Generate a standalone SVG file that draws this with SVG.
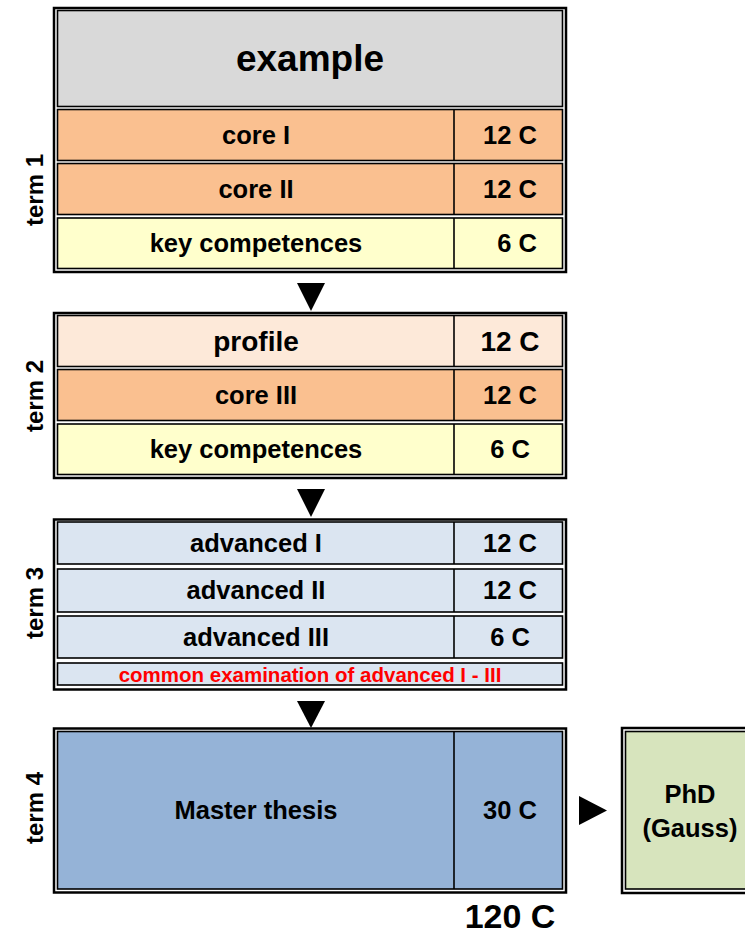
<svg xmlns="http://www.w3.org/2000/svg" width="745" height="936" viewBox="0 0 745 936">
<style>
.frame{fill:#ffffff;stroke:#000;stroke-width:2.5}
.cell{stroke:#000;stroke-width:1.6}
.div{stroke:#000;stroke-width:1.6}
text{font-family:"Liberation Sans",Arial,sans-serif;font-weight:bold;fill:#000;text-anchor:middle}
.t{font-size:25.5px}
.big{font-size:28px}
.term{font-size:24px}
.red{font-size:20.5px;fill:#ff0000}
.grey{fill:#d9d9d9}.core{fill:#fac090}.key{fill:#ffffcc}.prof{fill:#fde9d9}.adv{fill:#dbe5f1}.mt{fill:#95b3d7}.phd{fill:#d7e4bd}
.arr{fill:#000}
</style>
<rect width="745" height="936" fill="#ffffff"/>

<g id="term1">
<rect class="frame" x="54" y="8" width="512" height="264"/>
<rect class="cell grey" x="57.5" y="10.5" width="505" height="96"/>
<text x="310" y="71" style="font-size:37px">example</text>
<rect class="cell core" x="57.5" y="109.5" width="505" height="51"/>
<line class="div" x1="454" y1="109.5" x2="454" y2="160.5"/>
<text class="t" x="256" y="144">core I</text>
<text class="t" x="510" y="144">12 C</text>
<rect class="cell core" x="57.5" y="163.5" width="505" height="51"/>
<line class="div" x1="454" y1="163.5" x2="454" y2="214.5"/>
<text class="t" x="256" y="198">core II</text>
<text class="t" x="510" y="198">12 C</text>
<rect class="cell key" x="57.5" y="218" width="505" height="50.5"/>
<line class="div" x1="454" y1="218" x2="454" y2="268.5"/>
<text class="t" x="256" y="252">key competences</text>
<text class="t" x="517" y="252">6 C</text>
<text class="term" transform="translate(43,190) rotate(-90)">term 1</text>
</g>

<g id="term2">
<rect class="frame" x="54" y="313" width="512" height="165"/>
<rect class="cell prof" x="57.5" y="315.5" width="505" height="51"/>
<line class="div" x1="454" y1="315.5" x2="454" y2="366.5"/>
<text class="big" x="256" y="351">profile</text>
<text class="big" x="510" y="351">12 C</text>
<rect class="cell core" x="57.5" y="369.5" width="505" height="51"/>
<line class="div" x1="454" y1="369.5" x2="454" y2="420.5"/>
<text class="t" x="256" y="404">core III</text>
<text class="t" x="510" y="404">12 C</text>
<rect class="cell key" x="57.5" y="424" width="505" height="50.5"/>
<line class="div" x1="454" y1="424" x2="454" y2="474.5"/>
<text class="t" x="256" y="458">key competences</text>
<text class="t" x="510" y="458">6 C</text>
<text class="term" transform="translate(43,396) rotate(-90)">term 2</text>
</g>

<g id="term3">
<rect class="frame" x="54" y="519.5" width="512" height="170"/>
<rect class="cell adv" x="57.5" y="522" width="505" height="42"/>
<line class="div" x1="454" y1="522" x2="454" y2="564"/>
<text class="t" x="256" y="552">advanced I</text>
<text class="t" x="510" y="552">12 C</text>
<rect class="cell adv" x="57.5" y="569" width="505" height="43"/>
<line class="div" x1="454" y1="569" x2="454" y2="612"/>
<text class="t" x="256" y="599">advanced II</text>
<text class="t" x="510" y="599">12 C</text>
<rect class="cell adv" x="57.5" y="616" width="505" height="42"/>
<line class="div" x1="454" y1="616" x2="454" y2="658"/>
<text class="t" x="256" y="646">advanced III</text>
<text class="t" x="510" y="646">6 C</text>
<rect class="cell adv" x="57.5" y="663" width="505" height="22"/>
<text class="red" x="310" y="681.5">common examination of advanced I - III</text>
<text class="term" transform="translate(43,603) rotate(-90)">term 3</text>
</g>

<g id="term4">
<rect class="frame" x="54" y="728.5" width="512" height="164"/>
<rect class="cell mt" x="57.5" y="731.5" width="505" height="157.5"/>
<line class="div" x1="454" y1="731.5" x2="454" y2="889"/>
<text class="t" x="256" y="819">Master thesis</text>
<text class="t" x="510" y="819">30 C</text>
<text class="term" transform="translate(43,808) rotate(-90)">term 4</text>
</g>

<g id="total">
<text x="510" y="928" style="font-size:34px">120 C</text>
</g>

<g id="phd">
<rect class="frame" x="622" y="728" width="140" height="165"/>
<rect class="cell phd" x="625.5" y="731.5" width="130" height="157.5"/>
<text class="t" x="690" y="803">PhD</text>
<text class="t" x="690" y="837">(Gauss)</text>
</g>

<g id="connectors">
<polygon class="arr" points="297,283 325,283 311,311"/>
<polygon class="arr" points="297,489 325,489 311,517"/>
<polygon class="arr" points="297,701 325,701 311,728"/>
<polygon class="arr" points="579,796 579,825 607,810.5"/>
</g>
</svg>
